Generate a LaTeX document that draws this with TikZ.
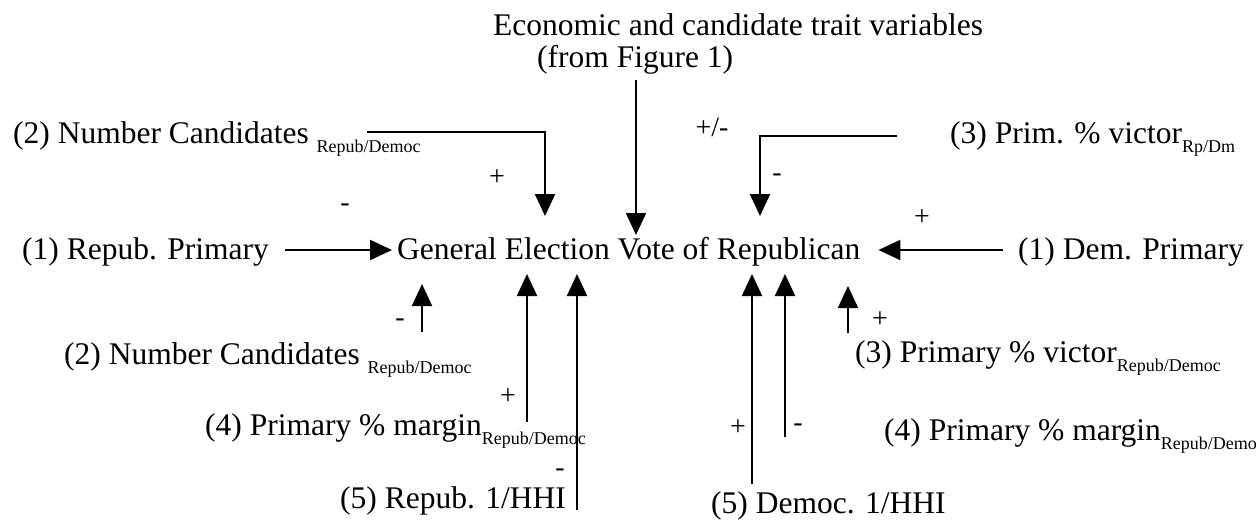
\documentclass[tikz,border=0pt]{standalone}
\usepackage{fontspec}
\setmainfont{Liberation Serif}
\usetikzlibrary{arrows.meta}
\newcommand\sbx[1]{\raisebox{-9pt}{\fontsize{18}{18}\selectfont #1}}
\begin{document}
\begin{tikzpicture}[x=1pt,y=-1pt,
  lbl/.style={anchor=base west,inner sep=0pt,font=\fontsize{31.5}{36}\selectfont},
  sgn/.style={inner sep=0pt,font=\fontsize{28}{32}\selectfont},
  arr/.style={line width=2pt,-{Triangle[length=22pt,width=20pt]}}]
\useasboundingbox (0,0) rectangle (1256,523);
% top
\node[lbl] (econ) at (493,35) {Economic and candidate trait variables};
\node[lbl] (fig) at (537,67) {(from Figure 1)};
\coordinate (figs) at (636,80);
\coordinate (figt) at (636,235);
\draw[arr] (figs) -- (figt);
% upper row
\node[lbl] (nct) at (13,143) {(2) Number Candidates \sbx{Repub/Democ}};
\coordinate (ncts) at (367,132);
\coordinate (nctt) at (545,216);
\draw[arr] (ncts) -| (nctt);
\node[sgn] (pl1) at (497,178) {+};
\node[sgn] (mi1) at (345,208) {-};
\node[lbl] (pvt) at (950,143) {(3) Prim. \% victor\sbx{Rp/Dm}};
\coordinate (pvts) at (897,136);
\coordinate (pvtt) at (760,216);
\draw[arr] (pvts) -| (pvtt);
\node[sgn] (pm) at (712,127) {+/-};
\node[sgn] (mi2) at (777,178) {-};
\node[sgn] (pl2) at (922,218) {+};
% main row
\node[lbl] (rp) at (22,259) {(1) Repub. Primary};
\node[lbl] (gen) at (397,259) {General Election Vote of Republican};
\node[lbl] (dp) at (1018,259) {(1) Dem. Primary};
\draw[arr] (rp.east |- 0,250) ++(16,0) -- ([xshift=-5pt]gen.west |- 0,250);
\draw[arr] ([xshift=-15pt]dp.west |- 0,250) -- ([xshift=18pt]gen.east |- 0,250);
% lower left
\node[lbl] (ncb) at (64,364) {(2) Number Candidates \sbx{Repub/Democ}};
\node[lbl] (pmb) at (205,435) {(4) Primary \% margin\sbx{Repub/Democ}};
\node[lbl] (rh) at (340,508) {(5) Repub. 1/HHI};
\coordinate (a1s) at (422,332); \coordinate (a1t) at (422,284);
\coordinate (a2s) at (527,422); \coordinate (a2t) at (527,274);
\coordinate (a3s) at (577,510); \coordinate (a3t) at (577,274);
\draw[arr] (a1s) -- (a1t);
\draw[arr] (a2s) -- (a2t);
\draw[arr] (a3s) -- (a3t);
\node[sgn] (mi3) at (400,323) {-};
\node[sgn] (pl3) at (508,397) {+};
\node[sgn] (mi4) at (560,473) {-};
% lower right
\node[lbl] (pvb) at (855,362) {(3) Primary \% victor\sbx{Repub/Democ}};
\node[lbl] (pmr) at (884,440) {(4) Primary \% margin\sbx{Repub/Demo}};
\node[lbl] (dh) at (711,513) {(5) Democ. 1/HHI};
\coordinate (b1s) at (752,484); \coordinate (b1t) at (752,274);
\coordinate (b2s) at (785,437); \coordinate (b2t) at (785,274);
\coordinate (b3s) at (848,333); \coordinate (b3t) at (848,286);
\draw[arr] (b1s) -- (b1t);
\draw[arr] (b2s) -- (b2t);
\draw[arr] (b3s) -- (b3t);
\node[sgn] (pl4) at (738,428) {+};
\node[sgn] (mi5) at (798,428) {-};
\node[sgn] (pl5) at (880,320) {+};
\end{tikzpicture}
\end{document}
